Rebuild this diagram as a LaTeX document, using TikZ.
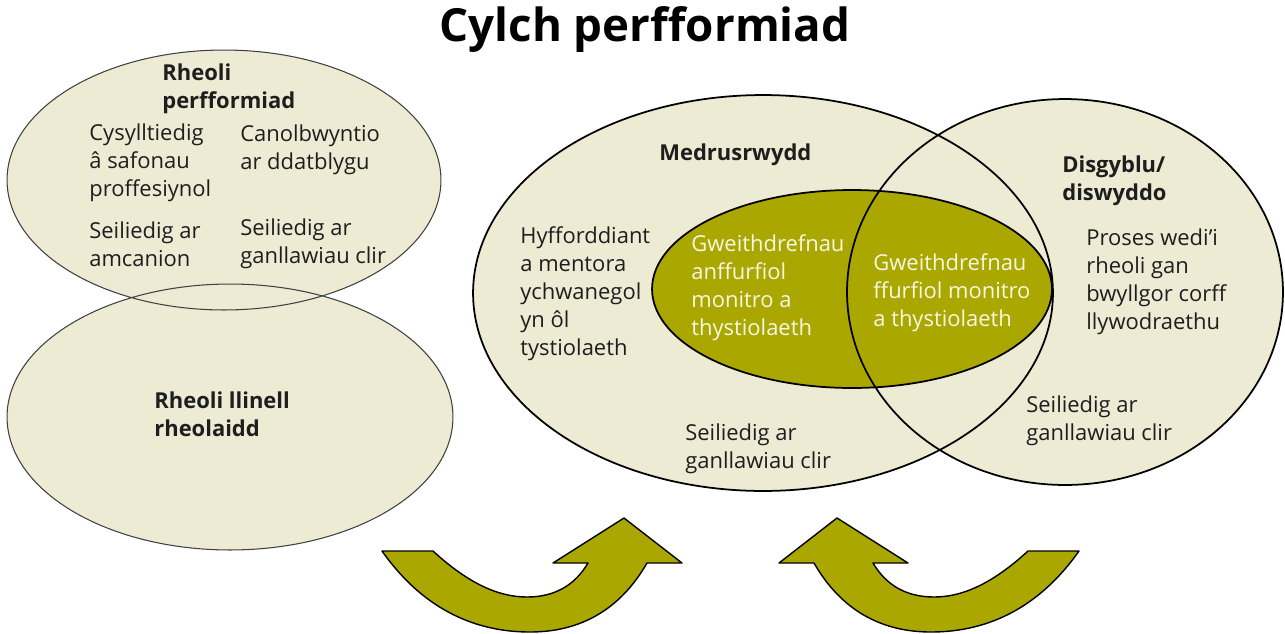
\documentclass[tikz,border=0pt]{standalone}
\usepackage{fontspec}
\setmainfont{Open Sans}
\usepackage{tikz}
\definecolor{cycbg}{RGB}{237,235,212}
\definecolor{cycol}{RGB}{170,168,0}
\definecolor{cyctx}{RGB}{30,30,30}
\definecolor{cycwt}{RGB}{247,247,226}

\begin{document}
\begin{tikzpicture}[x=0.02cm, y=-0.02cm,
    txt/.style={anchor=west, align=left, inner sep=0pt, text=cyctx,
                font=\fontsize{12.5}{15.9}\selectfont},
    hd/.style={txt, font=\fontsize{12.5}{15.9}\selectfont\bfseries}]
  \useasboundingbox (0,0) rectangle (1285,633);
  % fills first
  \fill[cycbg] (224,180) ellipse [x radius=4.34cm, y radius=2.6cm];
  \fill[cycbg] (230,417) ellipse [x radius=4.46cm, y radius=2.66cm];
  \fill[cycbg] (763,293) ellipse [x radius=5.8cm, y radius=3.96cm];
  \fill[cycbg] (1065,292) ellipse [x radius=4.36cm, y radius=3.86cm];
  \fill[cycol] (852,289) ellipse [x radius=4.0cm, y radius=1.98cm];
  % outlines on top
  \draw[black!75, line width=0.6pt]
    (224,180) ellipse [x radius=4.34cm, y radius=2.6cm]
    (230,417) ellipse [x radius=4.46cm, y radius=2.66cm];
  \draw[black, line width=1pt]
    (763,293) ellipse [x radius=5.8cm, y radius=3.96cm]
    (1065,292) ellipse [x radius=4.36cm, y radius=3.86cm]
    (852,289) ellipse [x radius=4.0cm, y radius=1.98cm];

  \node[font=\fontsize{26}{31}\selectfont\bfseries] (title) at (645,30)
    {Cylch perfformiad};

  % top left
  \node[hd] (perfhd) at (162,88.5) {Rheoli\\perfformiad};
  \node[txt] (safon) at (89,163) {Cysylltiedig\\â safonau\\proffesiynol};
  \node[txt] (datbl) at (240,149.5) {Canolbwyntio\\ar ddatblygu};
  \node[txt] (amcan) at (89,244) {Seiliedig ar\\amcanion};
  \node[txt] (canll1) at (240,244) {Seiliedig ar\\ganllawiau clir};
  % bottom left
  \node[hd] (llinell) at (154,414) {Rheoli llinell\\rheolaidd};
  % middle
  \node[hd] (medr) at (659,155) {Medrusrwydd};
  \node[txt] (hyff) at (520,293.5)
    {Hyfforddiant\\a mentora\\ychwanegol\\yn ôl\\tystiolaeth};
  \node[txt] (canll2) at (685,448.5) {Seiliedig ar\\ganllawiau clir};
  % olive core
  \node[txt, text=cycwt] (anff) at (691,288)
    {Gweithdrefnau\\anffurfiol\\monitro a\\thystiolaeth};
  \node[txt, text=cycwt] (ffurf) at (873,292.5)
    {Gweithdrefnau\\ffurfiol monitro\\a thystiolaeth};
  % right
  \node[hd] (disg) at (1062,181) {Disgyblu/\\diswyddo};
  \node[txt] (proses) at (1086,282)
    {Proses wedi’i\\rheoli gan\\bwyllgor corff\\llywodraethu};
  \node[txt] (canll3) at (1026,421) {Seiliedig ar\\ganllawiau clir};

  % curved arrows
  \draw[fill=cycol, line width=0.8pt, line join=round]
    (382,551) -- (433,551)
    .. controls (470,585) and (500,597) .. (527,597)
    .. controls (555,597) and (575,585) .. (588,563)
    -- (553,563) -- (624,518) -- (682,563) -- (647,563)
    .. controls (620,610) and (580,632) .. (530,632)
    .. controls (470,632) and (420,605) .. cycle;
  \draw[fill=cycol, line width=0.8pt, line join=round]
    (1079,551) -- (1028,551)
    .. controls (991,585) and (961,597) .. (934,597)
    .. controls (906,597) and (886,585) .. (873,563)
    -- (908,563) -- (837,518) -- (779,563) -- (814,563)
    .. controls (841,610) and (881,632) .. (931,632)
    .. controls (991,632) and (1041,605) .. cycle;
\end{tikzpicture}
\end{document}
